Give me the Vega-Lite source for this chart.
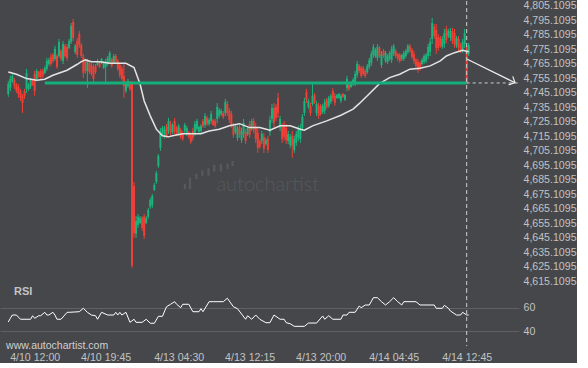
{
"$schema":"https://vega.github.io/schema/vega-lite/v6.json",
"background":"#45474b",
"padding":0,
"spacing":0,
"bounds":"flush",
"config":{"view":{"stroke":null},"font":"Liberation Sans","axis":{"labelColor":"#c2c2c2","labelFontSize":10.6,"domain":false,"ticks":false,"grid":false}},
"datasets":{
"candles":[
{"i":0,"o":4744.4,"h":4753.4,"l":4742.4,"c":4751.3},
{"i":1,"o":4748.6,"h":4756.9,"l":4746.5,"c":4754.8},
{"i":2,"o":4753.4,"h":4758.2,"l":4752.0,"c":4756.9},
{"i":3,"o":4754.1,"h":4755.5,"l":4747.9,"c":4749.9},
{"i":4,"o":4750.6,"h":4752.0,"l":4745.1,"c":4746.5},
{"i":5,"o":4749.3,"h":4751.3,"l":4741.7,"c":4744.4},
{"i":6,"o":4746.5,"h":4747.9,"l":4739.6,"c":4741.7},
{"i":7,"o":4743.1,"h":4744.4,"l":4731.3,"c":4738.2},
{"i":8,"o":4746.5,"h":4747.9,"l":4741.0,"c":4743.1},
{"i":9,"o":4747.9,"h":4761.7,"l":4745.1,"c":4758.9},
{"i":10,"o":4747.9,"h":4752.0,"l":4746.5,"c":4750.6},
{"i":11,"o":4749.9,"h":4755.5,"l":4747.9,"c":4754.1},
{"i":12,"o":4754.1,"h":4754.8,"l":4749.9,"c":4750.6},
{"i":13,"o":4758.2,"h":4760.3,"l":4743.1,"c":4746.5},
{"i":14,"o":4754.8,"h":4761.7,"l":4753.4,"c":4760.3},
{"i":15,"o":4759.6,"h":4760.3,"l":4755.5,"c":4756.2},
{"i":16,"o":4760.3,"h":4761.7,"l":4754.8,"c":4756.2},
{"i":17,"o":4760.3,"h":4761.7,"l":4755.5,"c":4756.9},
{"i":18,"o":4758.9,"h":4763.8,"l":4758.2,"c":4762.4},
{"i":19,"o":4761.7,"h":4769.3,"l":4760.3,"c":4767.2},
{"i":20,"o":4765.1,"h":4769.3,"l":4763.8,"c":4767.9},
{"i":21,"o":4770.0,"h":4772.0,"l":4763.8,"c":4765.1},
{"i":22,"o":4771.3,"h":4772.7,"l":4765.8,"c":4767.2},
{"i":23,"o":4768.6,"h":4777.6,"l":4767.2,"c":4775.5},
{"i":24,"o":4770.6,"h":4772.0,"l":4761.7,"c":4763.1},
{"i":25,"o":4770.6,"h":4782.4,"l":4769.3,"c":4780.3},
{"i":26,"o":4774.1,"h":4775.5,"l":4767.2,"c":4768.6},
{"i":27,"o":4767.2,"h":4781.0,"l":4765.1,"c":4778.9},
{"i":28,"o":4777.6,"h":4778.9,"l":4769.3,"c":4770.6},
{"i":29,"o":4776.9,"h":4778.9,"l":4767.2,"c":4769.3},
{"i":30,"o":4776.2,"h":4782.4,"l":4775.5,"c":4781.0},
{"i":31,"o":4780.3,"h":4793.4,"l":4778.9,"c":4791.4},
{"i":32,"o":4794.1,"h":4796.2,"l":4781.0,"c":4783.1},
{"i":33,"o":4773.4,"h":4778.9,"l":4772.0,"c":4777.6},
{"i":34,"o":4781.0,"h":4783.1,"l":4769.3,"c":4771.3},
{"i":35,"o":4785.8,"h":4787.9,"l":4776.2,"c":4778.2},
{"i":36,"o":4778.2,"h":4779.6,"l":4769.3,"c":4770.6},
{"i":37,"o":4770.0,"h":4772.0,"l":4755.5,"c":4758.9},
{"i":38,"o":4767.2,"h":4768.6,"l":4758.2,"c":4760.3},
{"i":39,"o":4760.3,"h":4768.6,"l":4748.6,"c":4766.5},
{"i":40,"o":4765.8,"h":4767.2,"l":4758.2,"c":4759.6},
{"i":41,"o":4764.4,"h":4765.8,"l":4756.9,"c":4758.2},
{"i":42,"o":4763.1,"h":4765.1,"l":4752.0,"c":4754.8},
{"i":43,"o":4763.8,"h":4765.1,"l":4758.2,"c":4759.6},
{"i":44,"o":4764.4,"h":4768.6,"l":4763.8,"c":4767.2},
{"i":45,"o":4766.5,"h":4767.2,"l":4762.4,"c":4763.1},
{"i":46,"o":4765.8,"h":4769.3,"l":4765.1,"c":4768.6},
{"i":47,"o":4762.4,"h":4767.2,"l":4761.7,"c":4765.8},
{"i":48,"o":4763.1,"h":4768.6,"l":4752.0,"c":4767.2},
{"i":49,"o":4765.1,"h":4770.6,"l":4763.8,"c":4769.3},
{"i":50,"o":4766.5,"h":4774.1,"l":4765.1,"c":4772.7},
{"i":51,"o":4768.6,"h":4769.3,"l":4762.4,"c":4763.8},
{"i":52,"o":4765.8,"h":4772.0,"l":4765.1,"c":4770.6},
{"i":53,"o":4770.6,"h":4772.0,"l":4765.1,"c":4766.5},
{"i":54,"o":4767.2,"h":4768.6,"l":4760.3,"c":4761.7},
{"i":55,"o":4764.4,"h":4765.8,"l":4755.5,"c":4757.5},
{"i":56,"o":4761.7,"h":4763.8,"l":4753.4,"c":4754.8},
{"i":57,"o":4756.9,"h":4765.1,"l":4741.7,"c":4749.9},
{"i":58,"o":4746.5,"h":4753.4,"l":4745.1,"c":4751.3},
{"i":59,"o":4749.9,"h":4754.8,"l":4748.6,"c":4753.4},
{"i":60,"o":4752.7,"h":4753.4,"l":4746.5,"c":4747.9},
{"i":61,"o":4752.0,"h":4753.4,"l":4624.4,"c":4625.8},
{"i":62,"o":4681.0,"h":4683.7,"l":4645.1,"c":4648.5},
{"i":63,"o":4647.9,"h":4660.2,"l":4645.1,"c":4656.8},
{"i":64,"o":4654.0,"h":4661.6,"l":4652.0,"c":4659.6},
{"i":65,"o":4655.4,"h":4660.2,"l":4654.7,"c":4658.9},
{"i":66,"o":4658.9,"h":4660.2,"l":4649.9,"c":4652.0},
{"i":67,"o":4659.6,"h":4661.6,"l":4644.4,"c":4646.5},
{"i":68,"o":4655.4,"h":4660.2,"l":4654.7,"c":4658.9},
{"i":69,"o":4659.6,"h":4665.8,"l":4658.2,"c":4664.4},
{"i":70,"o":4666.5,"h":4672.7,"l":4665.1,"c":4671.3},
{"i":71,"o":4667.8,"h":4675.4,"l":4665.8,"c":4674.1},
{"i":72,"o":4678.2,"h":4683.0,"l":4677.5,"c":4681.6},
{"i":73,"o":4683.7,"h":4691.3,"l":4682.3,"c":4689.9},
{"i":74,"o":4694.7,"h":4703.0,"l":4693.4,"c":4701.7},
{"i":75,"o":4707.2,"h":4721.0,"l":4705.1,"c":4718.9},
{"i":76,"o":4716.8,"h":4722.4,"l":4715.5,"c":4721.0},
{"i":77,"o":4715.5,"h":4722.4,"l":4713.4,"c":4720.3},
{"i":78,"o":4721.7,"h":4723.7,"l":4714.1,"c":4716.1},
{"i":79,"o":4718.9,"h":4727.9,"l":4716.8,"c":4725.8},
{"i":80,"o":4723.7,"h":4725.8,"l":4715.5,"c":4717.5},
{"i":81,"o":4718.2,"h":4724.4,"l":4716.8,"c":4723.0},
{"i":82,"o":4725.8,"h":4727.9,"l":4716.8,"c":4718.9},
{"i":83,"o":4721.0,"h":4722.4,"l":4715.5,"c":4716.8},
{"i":84,"o":4716.8,"h":4723.7,"l":4715.5,"c":4722.4},
{"i":85,"o":4719.6,"h":4721.0,"l":4713.4,"c":4714.8},
{"i":86,"o":4717.5,"h":4718.9,"l":4712.0,"c":4713.4},
{"i":87,"o":4718.9,"h":4724.4,"l":4717.5,"c":4723.0},
{"i":88,"o":4716.8,"h":4722.4,"l":4715.5,"c":4721.0},
{"i":89,"o":4718.2,"h":4718.9,"l":4713.4,"c":4714.8},
{"i":90,"o":4716.1,"h":4717.5,"l":4709.9,"c":4711.3},
{"i":91,"o":4718.9,"h":4721.0,"l":4712.0,"c":4714.1},
{"i":92,"o":4717.5,"h":4725.8,"l":4715.5,"c":4723.7},
{"i":93,"o":4720.3,"h":4727.2,"l":4718.9,"c":4725.8},
{"i":94,"o":4718.2,"h":4722.4,"l":4717.5,"c":4721.7},
{"i":95,"o":4718.9,"h":4723.7,"l":4717.5,"c":4722.4},
{"i":96,"o":4725.8,"h":4727.2,"l":4721.0,"c":4722.4},
{"i":97,"o":4723.0,"h":4731.3,"l":4721.0,"c":4729.3},
{"i":98,"o":4727.9,"h":4729.3,"l":4722.4,"c":4723.7},
{"i":99,"o":4723.7,"h":4727.9,"l":4722.4,"c":4726.5},
{"i":100,"o":4725.8,"h":4732.7,"l":4723.7,"c":4730.6},
{"i":101,"o":4726.5,"h":4727.2,"l":4722.4,"c":4723.0},
{"i":102,"o":4725.8,"h":4727.2,"l":4721.0,"c":4722.4},
{"i":103,"o":4727.2,"h":4738.2,"l":4724.4,"c":4735.5},
{"i":104,"o":4729.3,"h":4734.8,"l":4727.9,"c":4733.4},
{"i":105,"o":4730.6,"h":4734.1,"l":4729.3,"c":4732.7},
{"i":106,"o":4731.3,"h":4732.7,"l":4727.2,"c":4728.6},
{"i":107,"o":4731.3,"h":4741.0,"l":4729.3,"c":4738.9},
{"i":108,"o":4737.5,"h":4739.6,"l":4729.3,"c":4731.3},
{"i":109,"o":4732.7,"h":4734.8,"l":4724.4,"c":4726.5},
{"i":110,"o":4730.6,"h":4732.7,"l":4721.0,"c":4723.0},
{"i":111,"o":4722.4,"h":4724.4,"l":4714.1,"c":4716.1},
{"i":112,"o":4718.2,"h":4723.7,"l":4716.8,"c":4722.4},
{"i":113,"o":4714.1,"h":4722.4,"l":4712.0,"c":4720.3},
{"i":114,"o":4721.7,"h":4723.7,"l":4714.1,"c":4716.1},
{"i":115,"o":4712.7,"h":4721.0,"l":4710.6,"c":4718.9},
{"i":116,"o":4716.8,"h":4727.2,"l":4714.1,"c":4724.4},
{"i":117,"o":4718.2,"h":4720.3,"l":4709.9,"c":4712.0},
{"i":118,"o":4716.8,"h":4722.4,"l":4715.5,"c":4721.0},
{"i":119,"o":4723.7,"h":4725.8,"l":4714.1,"c":4716.1},
{"i":120,"o":4720.3,"h":4727.2,"l":4718.9,"c":4725.8},
{"i":121,"o":4725.8,"h":4727.9,"l":4717.5,"c":4719.6},
{"i":122,"o":4721.7,"h":4724.4,"l":4710.6,"c":4713.4},
{"i":123,"o":4717.5,"h":4721.0,"l":4703.7,"c":4707.2},
{"i":124,"o":4712.0,"h":4713.4,"l":4706.5,"c":4707.9},
{"i":125,"o":4712.0,"h":4718.9,"l":4709.9,"c":4716.8},
{"i":126,"o":4714.8,"h":4717.5,"l":4703.7,"c":4706.5},
{"i":127,"o":4709.9,"h":4714.1,"l":4708.6,"c":4712.7},
{"i":128,"o":4713.4,"h":4715.5,"l":4703.7,"c":4705.8},
{"i":129,"o":4718.2,"h":4729.3,"l":4715.5,"c":4726.5},
{"i":130,"o":4727.2,"h":4737.5,"l":4724.4,"c":4734.8},
{"i":131,"o":4734.8,"h":4738.2,"l":4721.0,"c":4724.4},
{"i":132,"o":4735.5,"h":4737.5,"l":4725.8,"c":4727.9},
{"i":133,"o":4741.7,"h":4745.1,"l":4727.9,"c":4731.3},
{"i":134,"o":4721.0,"h":4729.3,"l":4718.9,"c":4727.2},
{"i":135,"o":4721.7,"h":4724.4,"l":4710.6,"c":4713.4},
{"i":136,"o":4723.0,"h":4725.8,"l":4712.0,"c":4714.8},
{"i":137,"o":4721.0,"h":4723.7,"l":4709.9,"c":4712.7},
{"i":138,"o":4712.0,"h":4718.9,"l":4709.9,"c":4716.8},
{"i":139,"o":4709.2,"h":4716.8,"l":4707.2,"c":4714.8},
{"i":140,"o":4715.5,"h":4718.9,"l":4700.3,"c":4708.6},
{"i":141,"o":4705.8,"h":4715.5,"l":4703.7,"c":4713.4},
{"i":142,"o":4710.6,"h":4718.9,"l":4708.6,"c":4716.8},
{"i":143,"o":4714.1,"h":4722.4,"l":4712.0,"c":4720.3},
{"i":144,"o":4713.4,"h":4723.7,"l":4710.6,"c":4721.0},
{"i":145,"o":4721.0,"h":4730.6,"l":4718.9,"c":4728.6},
{"i":146,"o":4731.3,"h":4741.7,"l":4729.3,"c":4739.6},
{"i":147,"o":4745.8,"h":4747.9,"l":4738.2,"c":4740.3},
{"i":148,"o":4735.5,"h":4741.0,"l":4734.1,"c":4739.6},
{"i":149,"o":4736.2,"h":4738.2,"l":4729.3,"c":4731.3},
{"i":150,"o":4737.5,"h":4752.0,"l":4736.2,"c":4743.1},
{"i":151,"o":4743.7,"h":4745.1,"l":4737.5,"c":4738.9},
{"i":152,"o":4731.3,"h":4739.6,"l":4729.3,"c":4737.5},
{"i":153,"o":4736.2,"h":4738.2,"l":4727.2,"c":4729.3},
{"i":154,"o":4736.2,"h":4737.5,"l":4729.3,"c":4730.6},
{"i":155,"o":4732.0,"h":4737.5,"l":4730.6,"c":4736.2},
{"i":156,"o":4732.7,"h":4741.0,"l":4730.6,"c":4738.9},
{"i":157,"o":4740.3,"h":4741.7,"l":4734.1,"c":4735.5},
{"i":158,"o":4736.2,"h":4743.1,"l":4734.8,"c":4741.7},
{"i":159,"o":4738.9,"h":4744.4,"l":4737.5,"c":4743.1},
{"i":160,"o":4746.5,"h":4748.6,"l":4739.6,"c":4741.7},
{"i":161,"o":4743.1,"h":4745.1,"l":4736.2,"c":4738.2},
{"i":162,"o":4741.7,"h":4744.4,"l":4741.0,"c":4743.7},
{"i":163,"o":4741.7,"h":4745.1,"l":4741.0,"c":4744.4},
{"i":164,"o":4739.6,"h":4744.4,"l":4738.2,"c":4743.1},
{"i":165,"o":4744.4,"h":4745.1,"l":4741.7,"c":4742.4},
{"i":166,"o":4740.3,"h":4744.4,"l":4739.6,"c":4743.7},
{"i":167,"o":4748.6,"h":4756.9,"l":4746.5,"c":4754.8},
{"i":168,"o":4750.6,"h":4752.0,"l":4746.5,"c":4747.9},
{"i":169,"o":4749.3,"h":4753.4,"l":4748.6,"c":4752.7},
{"i":170,"o":4751.3,"h":4755.5,"l":4749.9,"c":4754.1},
{"i":171,"o":4752.0,"h":4760.3,"l":4749.9,"c":4758.2},
{"i":172,"o":4757.5,"h":4767.2,"l":4755.5,"c":4765.1},
{"i":173,"o":4763.8,"h":4765.1,"l":4758.9,"c":4760.3},
{"i":174,"o":4762.4,"h":4763.8,"l":4755.5,"c":4756.9},
{"i":175,"o":4762.4,"h":4763.8,"l":4756.9,"c":4758.2},
{"i":176,"o":4760.3,"h":4761.7,"l":4755.5,"c":4756.9},
{"i":177,"o":4759.6,"h":4765.1,"l":4758.2,"c":4763.8},
{"i":178,"o":4763.1,"h":4769.3,"l":4761.7,"c":4767.9},
{"i":179,"o":4765.8,"h":4774.1,"l":4763.8,"c":4772.0},
{"i":180,"o":4771.3,"h":4778.9,"l":4769.3,"c":4776.9},
{"i":181,"o":4770.6,"h":4776.2,"l":4769.3,"c":4774.8},
{"i":182,"o":4769.3,"h":4778.9,"l":4767.2,"c":4776.9},
{"i":183,"o":4776.2,"h":4777.6,"l":4769.3,"c":4770.6},
{"i":184,"o":4764.4,"h":4774.1,"l":4762.4,"c":4772.0},
{"i":185,"o":4774.1,"h":4775.5,"l":4769.3,"c":4770.6},
{"i":186,"o":4767.2,"h":4774.1,"l":4765.8,"c":4772.7},
{"i":187,"o":4766.5,"h":4772.0,"l":4765.1,"c":4770.6},
{"i":188,"o":4768.6,"h":4774.1,"l":4767.2,"c":4772.7},
{"i":189,"o":4767.9,"h":4777.6,"l":4765.8,"c":4775.5},
{"i":190,"o":4772.0,"h":4778.9,"l":4770.6,"c":4777.6},
{"i":191,"o":4774.1,"h":4775.5,"l":4769.3,"c":4770.6},
{"i":192,"o":4772.0,"h":4772.7,"l":4767.2,"c":4768.6},
{"i":193,"o":4771.3,"h":4772.7,"l":4765.8,"c":4767.2},
{"i":194,"o":4768.6,"h":4772.0,"l":4767.2,"c":4771.3},
{"i":195,"o":4768.6,"h":4774.1,"l":4767.2,"c":4772.7},
{"i":196,"o":4770.6,"h":4775.5,"l":4769.3,"c":4774.1},
{"i":197,"o":4773.4,"h":4778.9,"l":4772.0,"c":4777.6},
{"i":198,"o":4777.6,"h":4778.9,"l":4772.7,"c":4774.1},
{"i":199,"o":4774.8,"h":4776.2,"l":4768.6,"c":4770.0},
{"i":200,"o":4772.0,"h":4774.1,"l":4765.1,"c":4767.2},
{"i":201,"o":4767.9,"h":4769.3,"l":4762.4,"c":4763.8},
{"i":202,"o":4766.5,"h":4768.6,"l":4758.9,"c":4761.0},
{"i":203,"o":4765.8,"h":4767.2,"l":4760.3,"c":4761.7},
{"i":204,"o":4765.1,"h":4769.3,"l":4763.8,"c":4767.9},
{"i":205,"o":4766.5,"h":4772.0,"l":4765.1,"c":4770.6},
{"i":206,"o":4767.2,"h":4772.7,"l":4765.8,"c":4771.3},
{"i":207,"o":4770.6,"h":4778.9,"l":4768.6,"c":4776.9},
{"i":208,"o":4773.4,"h":4783.1,"l":4770.6,"c":4780.3},
{"i":209,"o":4782.4,"h":4796.9,"l":4778.9,"c":4793.4},
{"i":210,"o":4790.7,"h":4792.7,"l":4782.4,"c":4784.4},
{"i":211,"o":4788.6,"h":4792.7,"l":4772.0,"c":4776.2},
{"i":212,"o":4783.8,"h":4785.8,"l":4774.1,"c":4776.2},
{"i":213,"o":4783.1,"h":4784.4,"l":4776.2,"c":4777.6},
{"i":214,"o":4776.9,"h":4784.4,"l":4775.5,"c":4782.4},
{"i":215,"o":4778.9,"h":4789.3,"l":4776.2,"c":4786.5},
{"i":216,"o":4789.3,"h":4791.4,"l":4779.6,"c":4781.7},
{"i":217,"o":4784.4,"h":4789.3,"l":4783.1,"c":4787.9},
{"i":218,"o":4783.1,"h":4790.0,"l":4781.0,"c":4787.9},
{"i":219,"o":4787.9,"h":4790.0,"l":4778.9,"c":4781.0},
{"i":220,"o":4786.5,"h":4789.3,"l":4776.2,"c":4778.9},
{"i":221,"o":4777.6,"h":4784.4,"l":4776.2,"c":4783.1},
{"i":222,"o":4782.4,"h":4784.4,"l":4774.1,"c":4776.2},
{"i":223,"o":4778.2,"h":4779.6,"l":4772.7,"c":4774.1},
{"i":224,"o":4774.8,"h":4782.4,"l":4772.7,"c":4780.3},
{"i":225,"o":4778.9,"h":4789.3,"l":4776.2,"c":4786.5},
{"i":226,"o":4776.9,"h":4777.6,"l":4751.6,"c":4752.0},
{"i":227,"o":4772.0,"h":4779.6,"l":4770.6,"c":4778.2}
],
"ma":[
{"i":0,"v":4759.6},{"i":4,"v":4758.0},{"i":9,"v":4755.0},{"i":14,"v":4753.9},{"i":18,"v":4754.6},{"i":22,"v":4757.3},{"i":29,"v":4760.8},{"i":34,"v":4764.9},{"i":36,"v":4766.7},{"i":38,"v":4767.9},{"i":41,"v":4766.7},{"i":45,"v":4766.7},{"i":50,"v":4765.6},{"i":55,"v":4765.6},{"i":58,"v":4765.6},{"i":62,"v":4762.6},{"i":65,"v":4751.1},{"i":67,"v":4739.6},{"i":70,"v":4729.3},{"i":73,"v":4720.1},{"i":76,"v":4715.5},{"i":79,"v":4714.8},{"i":81,"v":4715.5},{"i":86,"v":4717.0},{"i":91,"v":4717.0},{"i":95,"v":4717.0},{"i":99,"v":4718.9},{"i":104,"v":4720.1},{"i":109,"v":4722.4},{"i":114,"v":4723.9},{"i":119,"v":4721.2},{"i":124,"v":4721.2},{"i":129,"v":4719.4},{"i":134,"v":4722.4},{"i":139,"v":4722.4},{"i":144,"v":4720.1},{"i":146,"v":4719.4},{"i":150,"v":4722.4},{"i":157,"v":4725.8},{"i":164,"v":4729.7},{"i":170,"v":4733.9},{"i":173,"v":4737.7},{"i":178,"v":4744.6},{"i":183,"v":4751.5},{"i":188,"v":4755.7},{"i":193,"v":4758.0},{"i":198,"v":4761.5},{"i":203,"v":4762.2},{"i":208,"v":4763.8},{"i":213,"v":4767.2},{"i":216,"v":4770.6},{"i":220,"v":4772.9},{"i":224,"v":4774.6},{"i":227,"v":4773.6}
],
"rsi":[
{"i":0,"r":47.9},{"i":1,"r":51.0},{"i":2,"r":53.8},{"i":4,"r":53.8},{"i":6,"r":50.2},{"i":11,"r":50.2},{"i":12,"r":53.2},{"i":13,"r":51.0},{"i":15,"r":53.2},{"i":16,"r":53.2},{"i":18,"r":56.1},{"i":19,"r":53.8},{"i":20,"r":53.8},{"i":22,"r":56.1},{"i":23,"r":53.8},{"i":24,"r":50.2},{"i":26,"r":50.2},{"i":29,"r":56.1},{"i":30,"r":56.1},{"i":35,"r":56.6},{"i":37,"r":59.5},{"i":39,"r":56.1},{"i":41,"r":53.8},{"i":43,"r":53.2},{"i":44,"r":50.2},{"i":46,"r":56.1},{"i":49,"r":53.8},{"i":52,"r":53.8},{"i":53,"r":56.1},{"i":54,"r":53.8},{"i":55,"r":56.1},{"i":56,"r":53.8},{"i":58,"r":56.1},{"i":60,"r":47.6},{"i":62,"r":50.2},{"i":63,"r":47.6},{"i":66,"r":47.6},{"i":68,"r":50.2},{"i":70,"r":46.8},{"i":72,"r":46.8},{"i":74,"r":52.7},{"i":76,"r":52.7},{"i":78,"r":60.8},{"i":80,"r":62.9},{"i":82,"r":65.1},{"i":83,"r":62.9},{"i":85,"r":60.0},{"i":86,"r":62.9},{"i":89,"r":62.9},{"i":91,"r":56.6},{"i":94,"r":56.6},{"i":95,"r":59.2},{"i":96,"r":56.6},{"i":99,"r":65.1},{"i":101,"r":65.1},{"i":103,"r":65.1},{"i":106,"r":65.1},{"i":108,"r":68.0},{"i":111,"r":60.8},{"i":113,"r":59.2},{"i":117,"r":50.2},{"i":118,"r":53.2},{"i":120,"r":50.2},{"i":122,"r":53.8},{"i":124,"r":50.2},{"i":127,"r":47.3},{"i":129,"r":47.3},{"i":131,"r":53.8},{"i":134,"r":50.2},{"i":136,"r":50.2},{"i":137,"r":47.3},{"i":139,"r":46.4},{"i":141,"r":44.2},{"i":146,"r":44.2},{"i":148,"r":47.0},{"i":152,"r":47.0},{"i":155,"r":53.0},{"i":156,"r":50.2},{"i":158,"r":53.2},{"i":160,"r":50.2},{"i":164,"r":50.2},{"i":165,"r":53.8},{"i":167,"r":53.8},{"i":168,"r":56.1},{"i":171,"r":56.1},{"i":173,"r":61.4},{"i":174,"r":60.0},{"i":176,"r":62.3},{"i":178,"r":62.3},{"i":180,"r":68.5},{"i":182,"r":68.5},{"i":184,"r":65.1},{"i":186,"r":62.3},{"i":188,"r":65.1},{"i":190,"r":68.5},{"i":192,"r":65.1},{"i":194,"r":62.3},{"i":195,"r":65.1},{"i":201,"r":65.1},{"i":203,"r":62.3},{"i":210,"r":62.3},{"i":211,"r":59.5},{"i":214,"r":59.5},{"i":215,"r":62.0},{"i":217,"r":59.5},{"i":218,"r":57.2},{"i":221,"r":53.8},{"i":223,"r":53.8},{"i":224,"r":56.1},{"i":226,"r":53.8},{"i":227,"r":53.8}
],
"level":[{"a":18,"b":226,"p":4752.0}],
"proj":[{"a":226,"b":251.8,"p":4752.0}],
"arrow":[{"a":226.3,"b":249.8,"p1":4768.4,"p2":4752.2}],
"now":[{"i":226}],
"logo":[{"i":87.1,"t":4682.5,"b":4678.7},{"i":89.6,"t":4686.7,"b":4678.7},{"i":92.7,"t":4689.4,"b":4685.6},{"i":95.7,"t":4691.8,"b":4687.9},{"i":98.7,"t":4693.2,"b":4687.9},{"i":101.5,"t":4695.4,"b":4690.8},{"i":104.8,"t":4695.9,"b":4690.8},{"i":108.1,"t":4696.3,"b":4692.5},{"i":110.6,"t":4698.2,"b":4694.7}],
"mark":[{"i":102.6,"p":4677.5,"t":"autochartist"}],
"rsilabel":[{"i":2.8,"r":73.3,"t":"RSI"}],
"site":[{"i":-1.1,"r":27.6,"t":"www.autochartist.com"}]
},
"vconcat":[
{"width":519,"height":288,
"layer":[
{"data":{"name":"mark"},"mark":{"type":"text","align":"left","baseline":"alphabetic","font":"Lato","fontSize":20,"fontWeight":300,"color":"#56595d"},
"encoding":{"x":{"field":"i","type":"quantitative","scale":{"domain":[-4.09,251.8],"nice":false,"zero":false},"axis":null,"title":null},
"y":{"field":"p","type":"quantitative","scale":{"domain":[4609.8,4808.56],"nice":false,"zero":false},"title":null,
"axis":{"orient":"right","values":[4615.1095,4625.1095,4635.1095,4645.1095,4655.1095,4665.1095,4675.1095,4685.1095,4695.1095,4705.1095,4715.1095,4725.1095,4735.1095,4745.1095,4755.1095,4765.1095,4775.1095,4785.1095,4795.1095,4805.1095],"tickCount":40,"format":",.4f","labelPadding":4,"labelOverlap":false,"labelFlush":false}},
"text":{"field":"t"}}},
{"data":{"name":"logo"},"mark":{"type":"rule","strokeWidth":2.3,"color":"#56595d"},
"encoding":{"x":{"field":"i","type":"quantitative","scale":{"domain":[-4.09,251.8],"nice":false,"zero":false},"title":null},
"y":{"field":"b","type":"quantitative","scale":{"domain":[4609.8,4808.56],"nice":false,"zero":false},"title":null},
"y2":{"field":"t"}}},
{"data":{"name":"candles"},"mark":{"type":"rule","strokeWidth":1},
"encoding":{"x":{"field":"i","type":"quantitative","scale":{"domain":[-4.09,251.8],"nice":false,"zero":false},"title":null},
"y":{"field":"l","type":"quantitative","scale":{"domain":[4609.8,4808.56],"nice":false,"zero":false},"title":null},
"y2":{"field":"h"},
"color":{"condition":{"test":"datum.c >= datum.o","value":"#1cb37c"},"value":"#ee4036"}}},
{"data":{"name":"candles"},"mark":{"type":"rule","strokeWidth":2},
"encoding":{"x":{"field":"i","type":"quantitative","scale":{"domain":[-4.09,251.8],"nice":false,"zero":false},"title":null},
"y":{"field":"o","type":"quantitative","scale":{"domain":[4609.8,4808.56],"nice":false,"zero":false},"title":null},
"y2":{"field":"c"},
"color":{"condition":{"test":"datum.c >= datum.o","value":"#1cb37c"},"value":"#ee4036"}}},
{"data":{"name":"ma"},"mark":{"type":"line","color":"#e4e4e4","strokeWidth":1.5},
"encoding":{"x":{"field":"i","type":"quantitative","scale":{"domain":[-4.09,251.8],"nice":false,"zero":false},"title":null},
"y":{"field":"v","type":"quantitative","scale":{"domain":[4609.8,4808.56],"nice":false,"zero":false},"title":null}}},
{"data":{"name":"level"},"mark":{"type":"rule","color":"#14b07b","strokeWidth":3},
"encoding":{"x":{"field":"a","type":"quantitative","scale":{"domain":[-4.09,251.8],"nice":false,"zero":false},"title":null},"x2":{"field":"b"},
"y":{"field":"p","type":"quantitative","scale":{"domain":[4609.8,4808.56],"nice":false,"zero":false},"title":null}}},
{"data":{"name":"proj"},"mark":{"type":"rule","color":"#cfcfcf","strokeWidth":1,"strokeDash":[3,3]},
"encoding":{"x":{"field":"a","type":"quantitative","scale":{"domain":[-4.09,251.8],"nice":false,"zero":false},"title":null},"x2":{"field":"b"},
"y":{"field":"p","type":"quantitative","scale":{"domain":[4609.8,4808.56],"nice":false,"zero":false},"title":null}}},
{"data":{"name":"now"},"mark":{"type":"rule","color":"#cfcfcf","strokeWidth":1,"strokeDash":[4,3]},
"encoding":{"x":{"field":"i","type":"quantitative","scale":{"domain":[-4.09,251.8],"nice":false,"zero":false},"title":null}}},
{"data":{"name":"arrow"},"mark":{"type":"rule","color":"#f0f0f0","strokeWidth":1.2},
"encoding":{"x":{"field":"a","type":"quantitative","scale":{"domain":[-4.09,251.8],"nice":false,"zero":false},"title":null},"x2":{"field":"b"},
"y":{"field":"p1","type":"quantitative","scale":{"domain":[4609.8,4808.56],"nice":false,"zero":false},"title":null},"y2":{"field":"p2"}}},
{"data":{"name":"arrow"},"mark":{"type":"point","shape":"M-1,1L0,0L1,1","filled":false,"size":90,"angle":116,"color":"#f0f0f0","strokeWidth":1.2,"opacity":1},
"encoding":{"x":{"field":"b","type":"quantitative","scale":{"domain":[-4.09,251.8],"nice":false,"zero":false},"title":null},
"y":{"field":"p2","type":"quantitative","scale":{"domain":[4609.8,4808.56],"nice":false,"zero":false},"title":null}}}
]},
{"width":519,"height":57,
"layer":[
{"data":{"name":"rsi"},"mark":{"type":"line","color":"#ffffff","strokeWidth":1},
"encoding":{"x":{"field":"i","type":"quantitative","scale":{"domain":[-4.09,251.8],"nice":false,"zero":false},"title":null,
"axis":{"values":[13,48,84,119,154,190,226],"tickCount":20,"labelExpr":"datum.value==13?'4/10 12:00':datum.value==48?'4/10 19:45':datum.value==84?'4/13 04:30':datum.value==119?'4/13 12:15':datum.value==154?'4/13 20:00':datum.value==190?'4/14 04:45':'4/14 12:45'","labelPadding":6,"labelFlush":false,"labelOverlap":false}},
"y":{"field":"r","type":"quantitative","scale":{"domain":[27.54,75.85],"nice":false,"zero":false},"title":null,
"axis":{"orient":"right","values":[40,60],"grid":true,"gridColor":"#5e6165","gridWidth":1,"labelPadding":4}}}},
{"data":{"name":"now"},"mark":{"type":"rule","color":"#cfcfcf","strokeWidth":1,"strokeDash":[4,3]},
"encoding":{"x":{"field":"i","type":"quantitative","scale":{"domain":[-4.09,251.8],"nice":false,"zero":false},"title":null}}},
{"data":{"name":"rsilabel"},"mark":{"type":"text","align":"left","baseline":"middle","fontSize":11,"fontWeight":"bold","color":"#c4c4c4"},
"encoding":{"x":{"field":"i","type":"quantitative","scale":{"domain":[-4.09,251.8],"nice":false,"zero":false},"title":null},
"y":{"field":"r","type":"quantitative","scale":{"domain":[27.54,75.85],"nice":false,"zero":false},"title":null},"text":{"field":"t"}}},
{"data":{"name":"site"},"mark":{"type":"text","align":"left","baseline":"middle","fontSize":10.5,"color":"#d0d0d0"},
"encoding":{"x":{"field":"i","type":"quantitative","scale":{"domain":[-4.09,251.8],"nice":false,"zero":false},"title":null},
"y":{"field":"r","type":"quantitative","scale":{"domain":[27.54,75.85],"nice":false,"zero":false},"title":null},"text":{"field":"t"}}}
]}
]
}
